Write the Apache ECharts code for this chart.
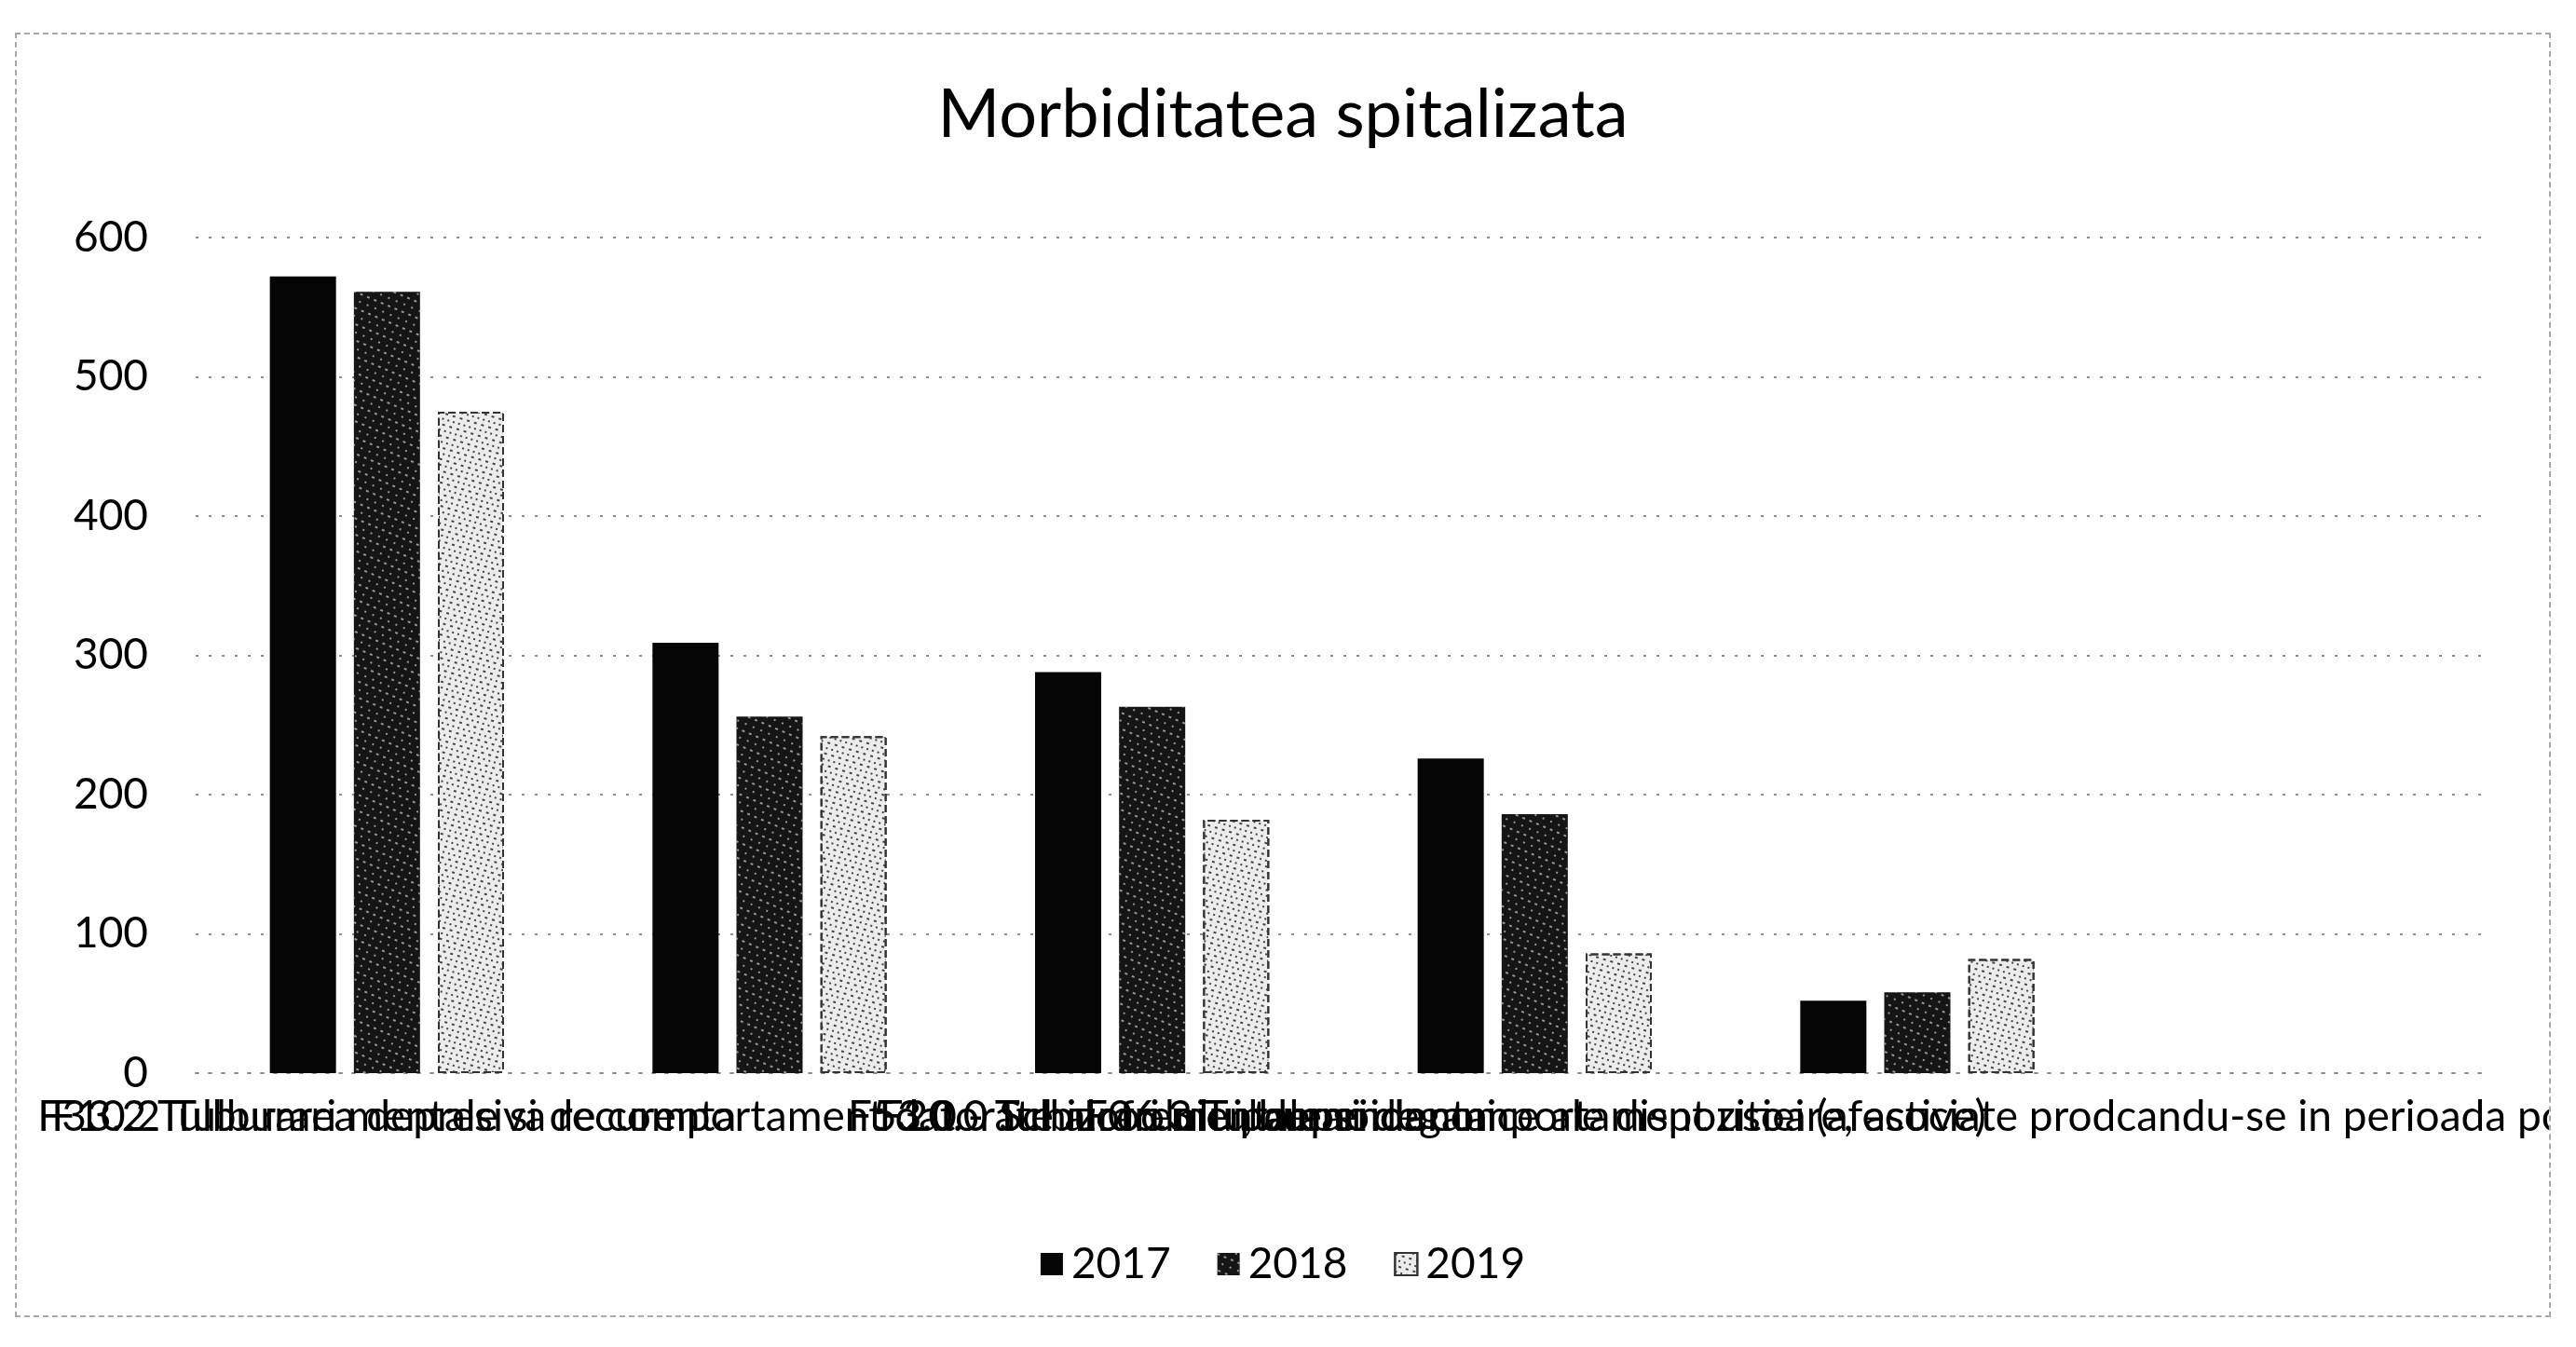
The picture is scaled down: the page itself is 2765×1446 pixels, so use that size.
<!DOCTYPE html>
<html>
<head>
<meta charset="utf-8">
<title>Morbiditatea spitalizata</title>
<script src="https://cdn.jsdelivr.net/npm/echarts@6/dist/echarts.min.js"></script>
<style>
  html, body { margin: 0; padding: 0; background: #fff; }
  #chart {
    position: absolute;
    left: 16px;
    top: 35px;
    width: 2718px;
    height: 1375px;
    border: 2px dashed #a8a8a8;
  }
</style>
</head>
<body>
<div id="chart"></div>
<script>
// categorii (ultima e goala, ca in foaia originala)
const categories = [
  'F33.2 Tulburarea depresiva recurenta',
  'F10.2 Tulburari mentale si de comportament datorate alcoolului, dependenta',
  'F20.0 Schizofrenie paranoida',
  'F06.3 Tulburari organice ale dispozitiei (afective)',
  'F53.0 - Tulburari mentale si de comportament usoare, asociate prodcandu-se in perioada postpartum, neclasificate',
  ''
]
const years = ['2017', '2018', '2019']
const values2017 = [572, 309, 288, 226, 52, null]
const values2018 = [561, 256, 263, 186, 58, null]
const values2019 = [475, 242, 182, 86, 82, null]
const yMin = 0
const yMax = 600
const yStep = 100

const font = 'Lato'
const dotted = { color: '#8c8c8c', width: 2, type: [3, 11] }

const chart = echarts.init(document.getElementById('chart'))
chart.setOption({
  backgroundColor: '#fff',
  animation: false,
  title: {
    text: 'Morbiditatea spitalizata',
    left: 'center',
    top: 46,
    textStyle: { fontFamily: font, fontSize: 72, fontWeight: 'normal', color: '#000' }
  },
  legend: {
    data: years,
    left: 'center',
    top: 1292,
    icon: 'rect',
    itemWidth: 24,
    itemHeight: 24,
    itemGap: 50,
    textStyle: { fontFamily: font, fontSize: 46, color: '#000', padding: [0, 0, 0, 4] }
  },
  grid: {
    left: 192,
    right: 62,
    top: 218,
    bottom: 260,
    containLabel: false,
    outerBoundsMode: 'none'
  },
  xAxis: {
    type: 'category',
    data: categories,
    axisTick: { show: false },
    axisLine: { lineStyle: dotted },
    axisLabel: {
      interval: 0,
      margin: 24,
      fontFamily: font,
      fontSize: 46,
      color: '#000'
    }
  },
  yAxis: {
    type: 'value',
    min: yMin,
    max: yMax,
    interval: yStep,
    axisLine: { show: false },
    axisTick: { show: false },
    axisLabel: { margin: 51, fontFamily: font, fontSize: 46, color: '#000' },
    splitLine: { lineStyle: dotted }
  },
  series: [{
    name: years[0],
    type: 'bar',
    data: values2017,
    barWidth: 71,
    barGap: '27%',
    itemStyle: { color: '#050505' }
  }, {
    name: years[1],
    type: 'bar',
    data: values2018,
    barWidth: 71,
    barGap: '27%',
    itemStyle: {
      color: '#151515',
      decal: {
        symbol: 'rect',
        symbolSize: 1,
        color: 'rgba(255,255,255,0.55)',
        dashArrayX: [[2, 7], [3, 5]],
        dashArrayY: [2, 6],
        rotation: 0.4
      }
    }
  }, {
    name: years[2],
    type: 'bar',
    data: values2019,
    barWidth: 71,
    barGap: '27%',
    itemStyle: {
      color: '#ececec',
      borderColor: '#333',
      borderWidth: 2,
      borderType: 'dashed',
      decal: {
        symbol: 'rect',
        symbolSize: 1,
        color: '#444',
        dashArrayX: [[2, 4], [3, 5]],
        dashArrayY: [2, 4],
        rotation: 0.3
      }
    }
  }]
})
</script>
</body>
</html>
